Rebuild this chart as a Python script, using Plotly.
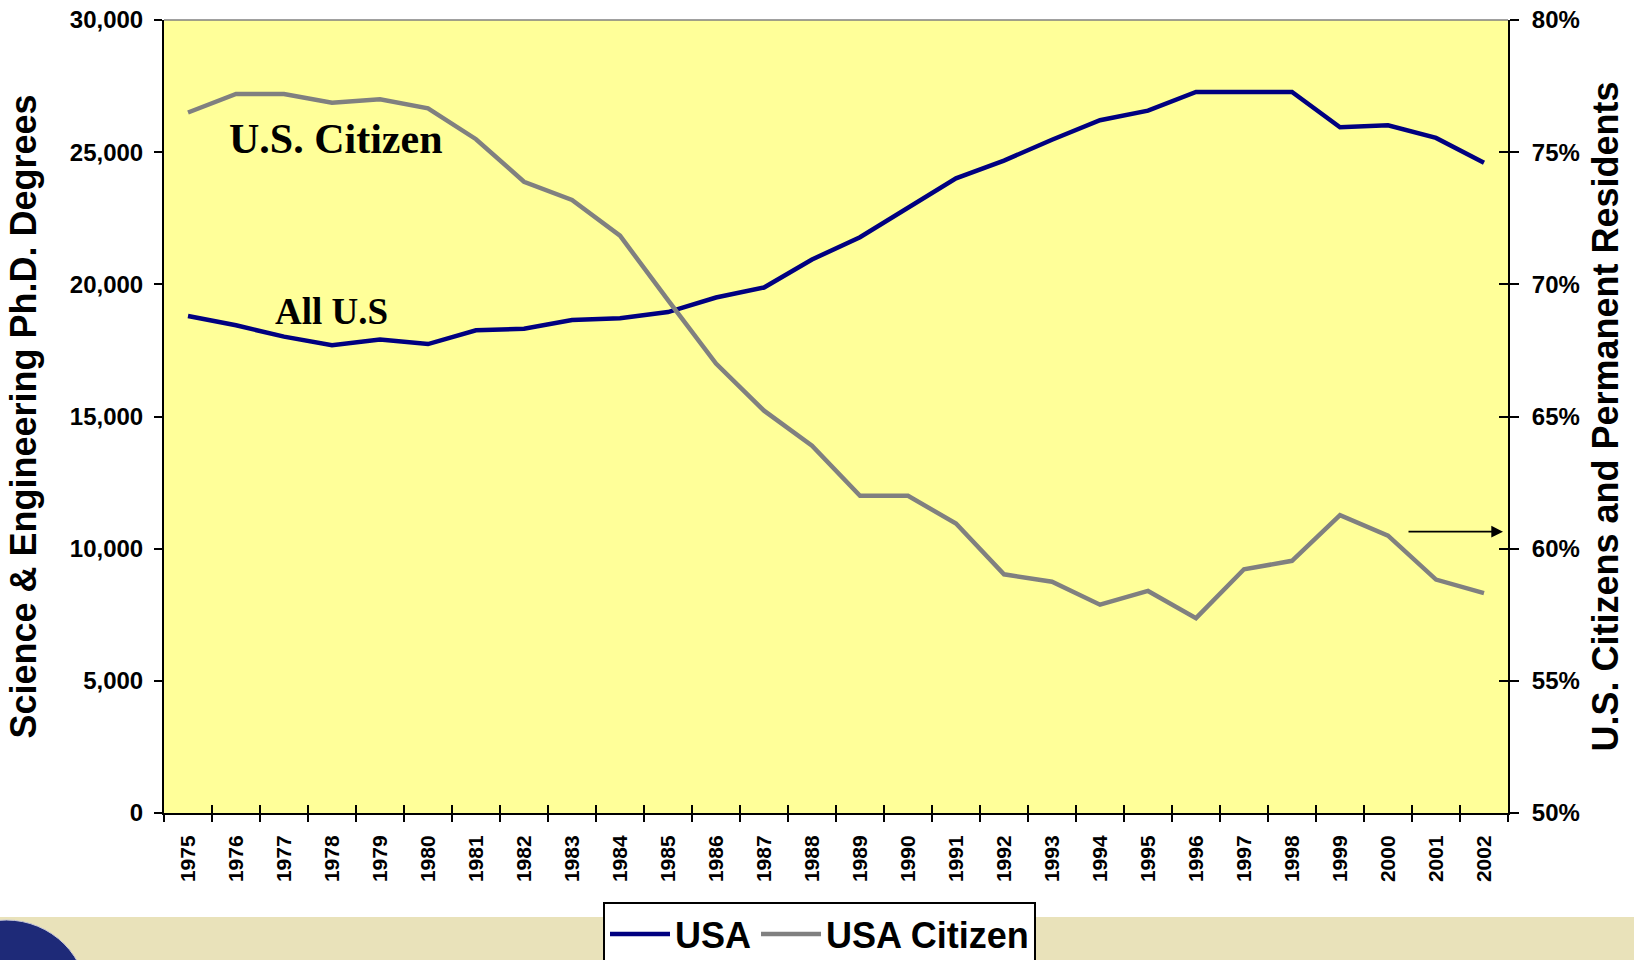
import plotly.graph_objects as go

years = list(range(1975, 2003))
usa_phd = [18800, 18450, 18020, 17700, 17910, 17740, 18260, 18320, 18650, 18720,
           18950, 19500, 19880, 20940, 21780, 22910, 24010, 24680, 25470, 26210,
           26570, 27280, 27280, 27280, 25940, 26020, 25540, 24600]
citizen_pct = [76.5, 77.2, 77.2, 76.87, 77.0, 76.66, 75.49, 73.88, 73.19, 71.84,
               69.4, 67.0, 65.22, 63.9, 62.0, 62.0, 60.95, 59.03, 58.75, 57.88,
               58.40, 57.37, 59.22, 59.54, 61.27, 60.49, 58.83, 58.32]
year_labels = [str(y) for y in years]
left_ticks = [0, 5000, 10000, 15000, 20000, 25000, 30000]
left_labels = ["0", "5,000", "10,000", "15,000", "20,000", "25,000", "30,000"]
right_ticks = [50, 55, 60, 65, 70, 75, 80]
right_labels = ["50%", "55%", "60%", "65%", "70%", "75%", "80%"]

FONT = "Arial, 'Liberation Sans', sans-serif"
SERIF = "'Times New Roman', 'Liberation Serif', serif"

# page body margin is removed (post_script), so the figure fills the window;
# plot area at x 164..1508, y 20..813
W, H = 1634, 960
ML, MR, MT, MB = 164, 126, 20, 147
PW = W - ML - MR
PH = H - MT - MB


def px_x(x):  # window pixel -> paper x
    return (x - ML) / PW


def px_y(y):  # window pixel -> paper y
    return (H - MB - y) / PH


fig = go.Figure()
fig.add_trace(go.Scatter(x=years, y=usa_phd, name="USA", mode="lines",
                         line=dict(color="#000080", width=4.5), xaxis="x", yaxis="y"))
fig.add_trace(go.Scatter(x=years, y=citizen_pct, name="USA Citizen", mode="lines",
                         line=dict(color="#808080", width=4.5), xaxis="x", yaxis="y2"))
# empty helper traces so the tick-only overlay axes are drawn
fig.add_trace(go.Scatter(x=[], y=[], xaxis="x2", yaxis="y", showlegend=False, hoverinfo="skip"))
fig.add_trace(go.Scatter(x=[], y=[], xaxis="x3", yaxis="y", showlegend=False, hoverinfo="skip"))
fig.add_trace(go.Scatter(x=[], y=[], xaxis="x", yaxis="y3", showlegend=False, hoverinfo="skip"))

xr = [years[0] - 0.5, years[-1] + 0.5]
bounds = [y - 0.5 for y in years] + [years[-1] + 0.5]

fig.update_layout(
    width=W, height=H,
    margin=dict(l=ML, r=MR, t=MT, b=MB, autoexpand=False),
    paper_bgcolor="white",
    plot_bgcolor="#FFFF99",
    font=dict(family=FONT, color="black"),
    showlegend=True,
    legend=dict(orientation="h", x=px_x(603), y=px_y(902), xanchor="left", yanchor="top",
                bgcolor="white", bordercolor="black", borderwidth=2,
                font=dict(family=FONT, size=36, weight="bold"),
                itemwidth=60),
    xaxis=dict(range=xr, tickvals=years, ticktext=year_labels, ticks="",
               tickangle=-90, tickfont=dict(family=FONT, size=21, weight="bold"),
               showline=True, linecolor="black", linewidth=2, showgrid=False,
               zeroline=False, ticklabelstandoff=12, automargin=False,
               ticklabeloverflow="allow"),
    xaxis2=dict(range=xr, overlaying="x", anchor="y", tickvals=bounds, ticks="outside",
                ticklen=8, tickwidth=1.5, tickcolor="black", showticklabels=False,
                showline=False, showgrid=False, zeroline=False, automargin=False),
    xaxis3=dict(range=xr, overlaying="x", anchor="y", tickvals=bounds, ticks="inside",
                ticklen=8, tickwidth=1.5, tickcolor="black", showticklabels=False,
                showline=False, showgrid=False, zeroline=False, automargin=False),
    yaxis=dict(range=[0, 30000], tickvals=left_ticks, ticktext=left_labels, ticks="outside",
               ticklen=8, tickwidth=1.5, tickcolor="black",
               tickfont=dict(family=FONT, size=24, weight="bold"),
               showline=True, linecolor="black", linewidth=2, showgrid=False,
               zeroline=False, ticklabelstandoff=6, automargin=False,
               ticklabeloverflow="allow",
               title=dict(text="<b>Science &amp; Engineering Ph.D. Degrees</b>",
                          font=dict(family=FONT, size=36), standoff=22)),
    yaxis2=dict(range=[50, 80], overlaying="y", side="right", anchor="x",
                tickvals=right_ticks, ticktext=right_labels,
                ticks="outside", ticklen=9, tickwidth=1.5, tickcolor="black",
                tickfont=dict(family=FONT, size=24, weight="bold"),
                showline=True, linecolor="black", linewidth=2, showgrid=False,
                zeroline=False, ticklabelstandoff=8, automargin=False,
                ticklabeloverflow="allow",
                title=dict(text="<b>U.S. Citizens and Permanent Residents</b>",
                           font=dict(family=FONT, size=36), standoff=14)),
    yaxis3=dict(range=[50, 80], overlaying="y", side="right", anchor="x",
                tickvals=right_ticks, ticks="inside", ticklen=9, tickwidth=1.5,
                tickcolor="black", showticklabels=False, showline=False,
                showgrid=False, zeroline=False, automargin=False),
)

shapes = [
    dict(type="line", xref="paper", yref="paper", x0=0, x1=1, y0=1, y1=1,
         line=dict(color="#808080", width=1.5)),
    dict(type="rect", xref="paper", yref="paper", x0=px_x(0), x1=px_x(1640),
         y0=px_y(917), y1=px_y(965),
         fillcolor="#E9E2BA", line=dict(width=0), layer="below"),
    dict(type="circle", xref="paper", yref="paper",
         x0=px_x(-75), x1=px_x(88), y0=px_y(920), y1=px_y(1083),
         fillcolor="#1E2A78", line=dict(color="#C8C8D8", width=1), layer="above"),
]
fig.update_layout(shapes=shapes)

fig.add_annotation(text="<b>U.S. Citizen</b>", xref="paper", yref="paper",
                   x=px_x(335.5), y=px_y(139), xanchor="center", yanchor="middle",
                   showarrow=False, font=dict(family=SERIF, size=42, color="black"))
fig.add_annotation(text="<b>All U.S</b>", xref="paper", yref="paper",
                   x=px_x(331.5), y=px_y(311), xanchor="center", yanchor="middle",
                   showarrow=False, font=dict(family=SERIF, size=37, color="black"))
fig.add_annotation(text="", xref="paper", yref="paper", x=px_x(1503), y=px_y(531.7),
                   ax=-96, ay=0, showarrow=True, arrowhead=2, arrowsize=1.3,
                   arrowwidth=1.8, arrowcolor="black")

fig.write_html("out.html",
               config={"displayModeBar": False},
               post_script="document.body.style.margin='0';"
                           "document.body.style.overflow='hidden';")
